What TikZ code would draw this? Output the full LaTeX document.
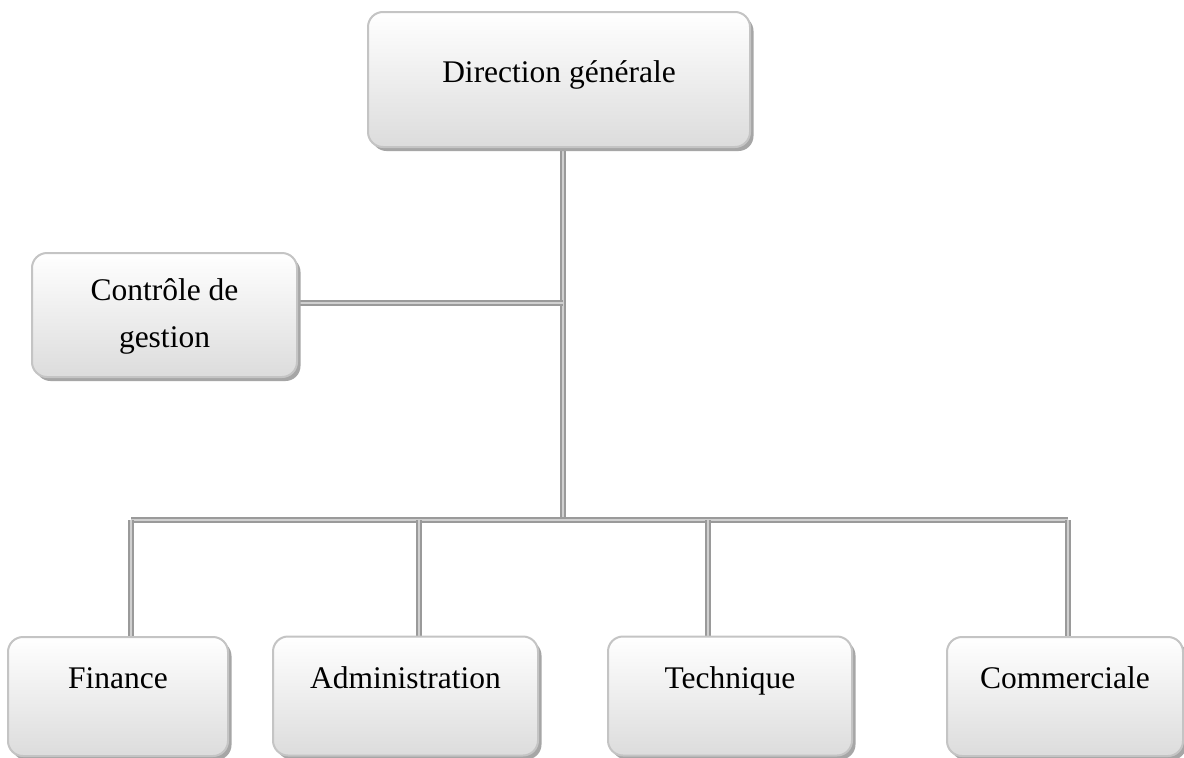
\documentclass[tikz,border=0pt]{standalone}
\usepackage{fontspec}
\setmainfont{Liberation Serif}
\usetikzlibrary{shadows,backgrounds}
\definecolor{boxline}{HTML}{C4C4C4}
\definecolor{boxbot}{HTML}{DCDCDC}
\definecolor{connout}{HTML}{9A9A9A}
\definecolor{connin}{HTML}{D0D0D0}
\tikzset{
  orgbox/.style={draw=boxline, line width=2pt, rounded corners=15pt,
    top color=white, bottom color=boxbot, inner sep=0pt,
    general shadow={fill=gray!70, shadow xshift=3.5pt, shadow yshift=-4pt}},
  orgtext/.style={anchor=base, inner sep=0pt, font=\fontsize{31.5}{38}\selectfont},
  conn/.style={draw=connout, line width=1.6pt, double=connin, double distance=2.4pt}
}
\begin{document}
\begin{tikzpicture}[x=1pt,y=-1pt]
\useasboundingbox (0,0) rectangle (1184,758);
% boxes
\node[orgbox, minimum width=382pt, minimum height=135pt] (dg) at (559,79.5) {};
\node[orgbox, minimum width=265pt, minimum height=124pt] (cg) at (164.5,315) {};
\node[orgbox, minimum width=220pt, minimum height=119pt] (fin) at (118,696.5) {};
\node[orgbox, minimum width=265pt, minimum height=119pt] (adm) at (405.5,696) {};
\node[orgbox, minimum width=244pt, minimum height=119pt] (tec) at (730,696) {};
\node[orgbox, minimum width=236pt, minimum height=119pt] (com) at (1065,696.5) {};
% texts
\node[orgtext] (dgt) at (559,82) {Direction générale};
\node[orgtext] (cgt1) at (164.5,300) {Contrôle de};
\node[orgtext] (cgt2) at (164.5,347) {gestion};
\node[orgtext] (fint) at (118,688) {Finance};
\node[orgtext] (admt) at (405.5,688) {Administration};
\node[orgtext] (tect) at (730,688) {Technique};
\node[orgtext] (comt) at (1065,688) {Commerciale};
% junctions
\coordinate (j) at (563,303);
\coordinate (b) at (563,520);
\coordinate (bf) at (131,520);
\coordinate (ba) at (419,520);
\coordinate (bt) at (708,520);
\coordinate (bc) at (1068,520);
\begin{pgfonlayer}{background}
\fill[white] (0,0) rectangle (1184,758);
\draw[conn] (dg.south -| j) -- (b);
\draw[conn] (cg.east |- j) -- (j);
\draw[conn] (bf) -- (bc);
\draw[conn] (bf) -- (bf |- fin.north);
\draw[conn] (ba) -- (ba |- adm.north);
\draw[conn] (bt) -- (bt |- tec.north);
\draw[conn] (bc) -- (bc |- com.north);
\end{pgfonlayer}
\end{tikzpicture}
\end{document}
